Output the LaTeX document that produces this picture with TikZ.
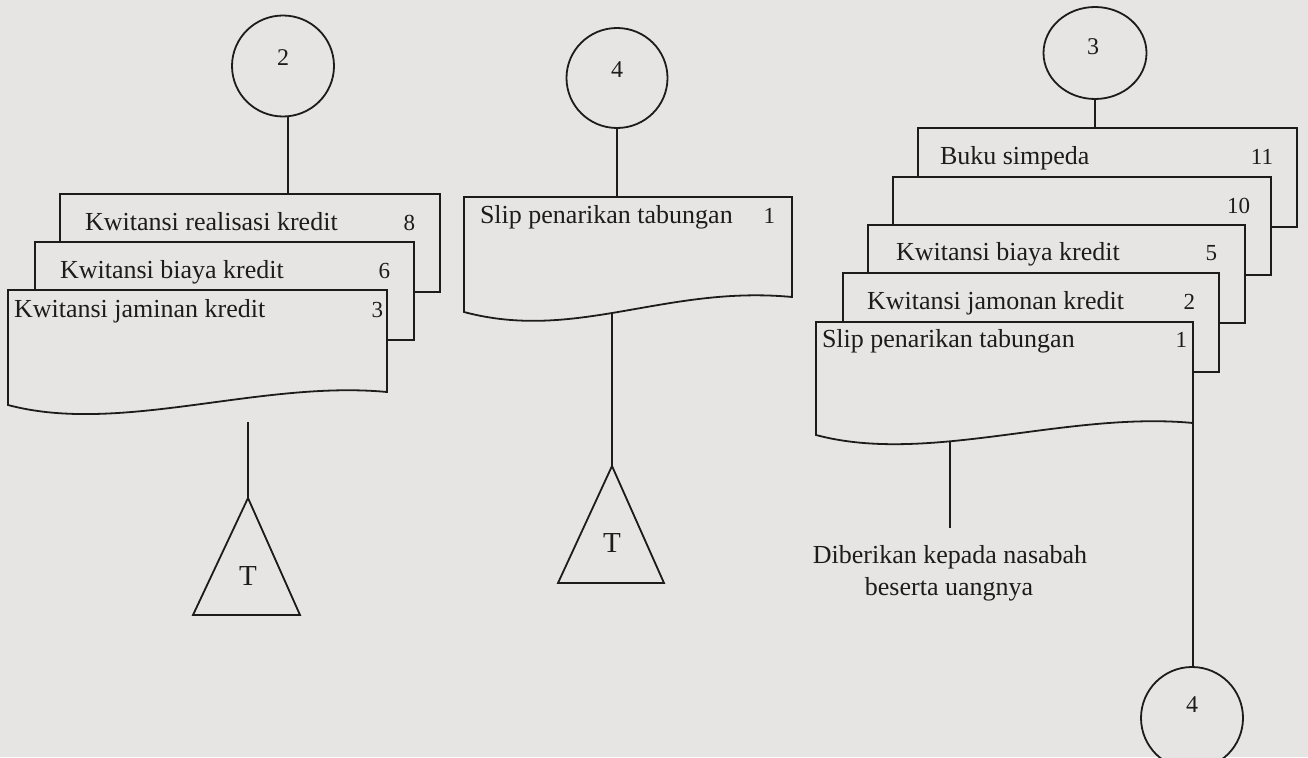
\documentclass[tikz,border=0pt]{standalone}
\usepackage{fontspec}
\setmainfont{Liberation Serif}
\usetikzlibrary{shapes.geometric}
\definecolor{paper}{HTML}{E6E5E3}
\definecolor{ink}{HTML}{1C1C1C}
\pgfdeclarelayer{paperlayer}
\pgfdeclarelayer{links}
\pgfsetlayers{paperlayer,links,main}

% front sheet of a stack: straight top and sides, wavy bottom edge
\newcommand\wavysheet[2]{%
  \draw[wave] (#1.south east) -- (#1.north east) -- (#1.north west)
    -- ([yshift=-#2pt]#1.south west)
    .. controls +(112,30) and +(-127,-12) .. (#1.south east) -- cycle;}

\begin{document}
\begin{tikzpicture}[x=1pt,y=-1pt,
  every node/.style={inner sep=0pt, outer sep=0pt},
  conn/.style={draw=ink, line width=1.8pt},
  sheet/.style={rectangle, anchor=north west, draw=ink, fill=paper, line width=1.8pt},
  sheetbody/.style={rectangle, anchor=north west, draw=none},
  wave/.style={draw=ink, fill=paper, line width=1.8pt, line join=miter},
  term/.style={ellipse, draw=ink, fill=paper, line width=1.8pt},
  tri/.style={draw=ink, fill=paper, line width=1.8pt, line join=miter},
  lbl/.style={font=\fontsize{26}{30}\selectfont, text=ink, anchor=base west},
  num/.style={font=\fontsize{23}{28}\selectfont, text=ink, anchor=base east},
  cnum/.style={font=\fontsize{24}{28}\selectfont, text=ink},
  note/.style={font=\fontsize{26}{30}\selectfont, text=ink, anchor=base},
  tee/.style={font=\fontsize{29}{34}\selectfont, text=ink, anchor=base},
]
\useasboundingbox (0,0) rectangle (1308,757);
\begin{pgfonlayer}{paperlayer}
  \fill[paper] (0,0) rectangle (1308,757);
\end{pgfonlayer}

% ---- connectors (terminal circles) ----
\node[term, minimum width=102pt, minimum height=101pt] (c2) at (283,66) {};
\node[cnum] (c2n) at (283,58) {2};
\node[term, minimum width=101pt, minimum height=100pt] (c4a) at (617,78) {};
\node[cnum] (c4an) at (617,70) {4};
\node[term, minimum width=103pt, minimum height=92pt] (c3) at (1095,53) {};
\node[cnum] (c3n) at (1093,47) {3};
\node[term, minimum width=102pt, minimum height=102pt] (c4b) at (1192,718) {};
\node[cnum] (c4bn) at (1192,705) {4};

% ---- left stack ----
\node[sheet, minimum width=380pt, minimum height=98pt] (d8) at (60,194) {};
\node[sheet, minimum width=379pt, minimum height=98pt] (d6) at (35,242) {};
\node[sheetbody, minimum width=379pt, minimum height=102pt] (d3) at (8,290) {};
\wavysheet{d3}{13}

% ---- middle sheet ----
\node[sheetbody, minimum width=328pt, minimum height=100pt] (ds) at (464,197) {};
\wavysheet{ds}{15}

% ---- right stack ----
\node[sheet, minimum width=379pt, minimum height=99pt] (d11) at (918,128) {};
\node[sheet, minimum width=378pt, minimum height=98pt] (d10) at (893,177) {};
\node[sheet, minimum width=377pt, minimum height=98pt] (d5) at (868,225) {};
\node[sheet, minimum width=376pt, minimum height=99pt] (d2) at (843,273) {};
\node[sheetbody, minimum width=377pt, minimum height=101pt] (d1) at (816,322) {};
\wavysheet{d1}{12}

% ---- sheet labels ----
\node[lbl] (l8) at (85,230) {Kwitansi realisasi kredit};
\node[num] (n8) at (415,230) {8};
\node[lbl] (l6) at (60,278) {Kwitansi biaya kredit};
\node[num] (n6) at (390,278) {6};
\node[lbl] (l3) at (14,317) {Kwitansi jaminan kredit};
\node[num] (n3) at (383,317) {3};
\node[lbl] (ls) at (480,223) {Slip penarikan tabungan};
\node[num] (ns) at (775,223) {1};
\node[lbl] (l11) at (940,164) {Buku simpeda};
\node[num] (n11) at (1273,164) {11};
\node[num] (n10) at (1250,213) {10};
\node[lbl] (l5) at (896,260) {Kwitansi biaya kredit};
\node[num] (n5) at (1217,260) {5};
\node[lbl] (l2) at (867,309) {Kwitansi jamonan kredit};
\node[num] (n2) at (1195,309) {2};
\node[lbl] (l1) at (822,347) {Slip penarikan tabungan};
\node[num] (n1) at (1187,347) {1};

% ---- archive triangles ----
\coordinate (tri1) at (248,498);
\coordinate (tri2) at (612,466);
\draw[tri] (tri1) -- ++(-55,117) -- ++(107,0) -- cycle;
\draw[tri] (tri2) -- ++(-54,117) -- ++(106,0) -- cycle;
\node[tee] (T1) at (248,585) {T};
\node[tee] (T2) at (612,552) {T};

% ---- hand-over note ----
\coordinate (give) at (950,528);
\node[note] (g1) at (950,563) {Diberikan kepada nasabah};
\node[note] (g2) at (949,595) {beserta uangnya};

% ---- flow lines ----
\coordinate (j2) at ([xshift=5pt]c2.center);
\coordinate (k1) at (248,422);
\begin{pgfonlayer}{links}
  \draw[conn] (j2) -- (j2 |- d8.north);
  \draw[conn] (c4a.center) -- (c4a.center |- ds.north);
  \draw[conn] (c3.center) -- (c3.center |- d11.north);
  \draw[conn] (k1) -- (tri1);
  \draw[conn] (tri2 |- ds.center) -- (tri2);
  \draw[conn] (give |- d1.center) -- (give);
  \draw[conn] (d1.south east) -- (d1.south east |- c4b.center);
\end{pgfonlayer}
\end{tikzpicture}
\end{document}
